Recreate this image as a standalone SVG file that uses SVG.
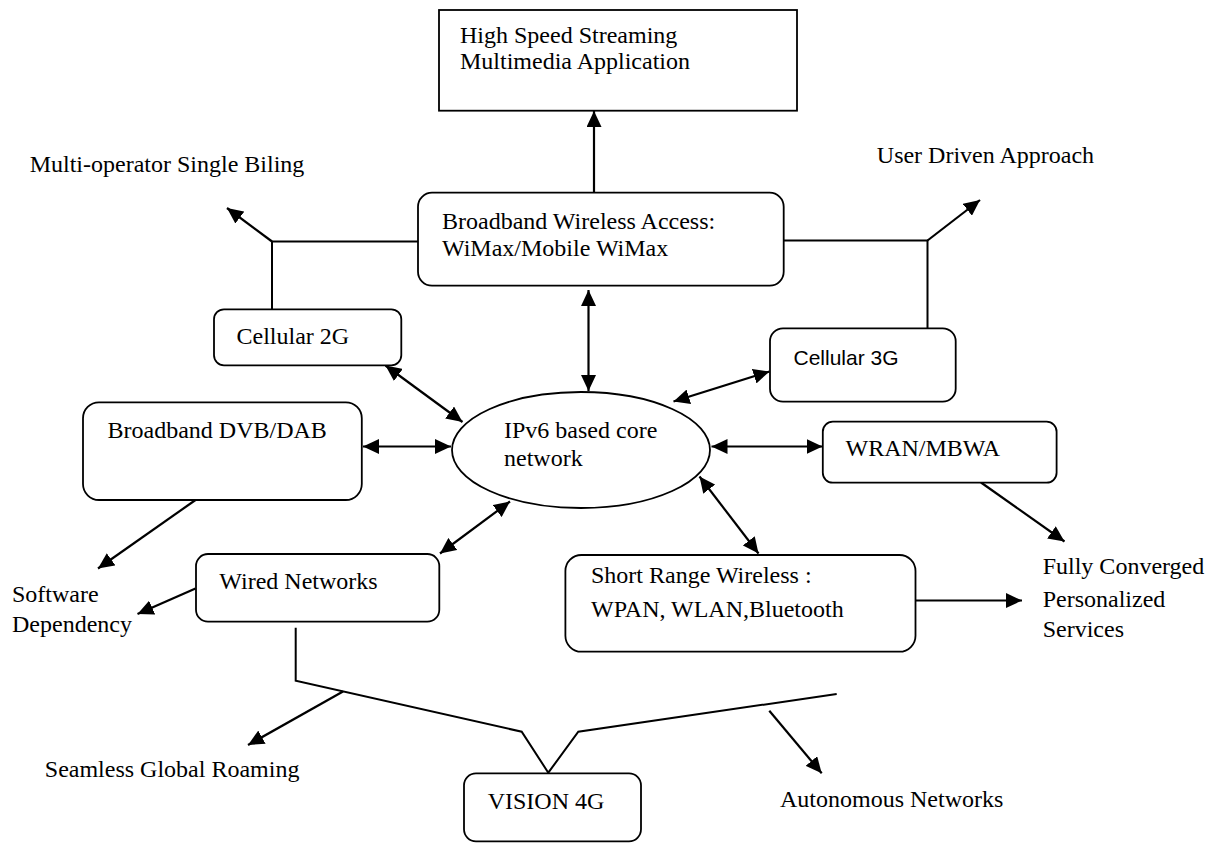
<svg xmlns="http://www.w3.org/2000/svg" width="1213" height="843" viewBox="0 0 1213 843">
<style>
  .box { fill: #fff; stroke: #000; stroke-width: 1.8; }
  .t { font-family: "Liberation Serif", "Times New Roman", serif; font-size: 24px; fill: #000; }
  .s { font-family: "Liberation Sans", Arial, sans-serif; font-size: 21px; fill: #000; }
  .ln { fill: none; stroke: #000; stroke-width: 2; }
  .ar { fill: none; stroke: #000; stroke-width: 2.2; marker-end: url(#ah); }
  .ar2 { fill: none; stroke: #000; stroke-width: 2.2; marker-end: url(#ah); marker-start: url(#ah); }
</style>
<defs>
  <marker id="ah" markerUnits="userSpaceOnUse" markerWidth="17" markerHeight="15" refX="16" refY="7.5" orient="auto-start-reverse">
    <path d="M0,0 L16,7.5 L0,15 z" fill="#000"/>
  </marker>
</defs>
<rect width="1213" height="843" fill="#fff"/>

<g id="connectors">
  <!-- Broadband wireless to High speed -->
  <line class="ar" x1="594" y1="193" x2="594" y2="111"/>
  <!-- left branch -->
  <polyline class="ln" points="418,241.5 272,241.5 272,309.5"/>
  <line class="ar" x1="272" y1="241.5" x2="227" y2="208"/>
  <!-- right branch -->
  <polyline class="ln" points="783.5,240.5 927.5,240.5 927.5,328.5"/>
  <line class="ar" x1="927.5" y1="240.5" x2="980" y2="200"/>
  <!-- double arrows to core -->
  <line class="ar2" x1="588.5" y1="290" x2="588.5" y2="391"/>
  <line class="ar2" x1="385.5" y1="365.5" x2="462.5" y2="422"/>
  <line class="ar2" x1="363" y1="446.5" x2="451" y2="446.5"/>
  <line class="ar2" x1="440" y1="553.5" x2="510" y2="501.5"/>
  <line class="ar2" x1="673.5" y1="401.5" x2="769.5" y2="371.5"/>
  <line class="ar2" x1="711.5" y1="446.5" x2="822.5" y2="446.5"/>
  <line class="ar2" x1="699.5" y1="476.5" x2="758.5" y2="553.5"/>
  <!-- outputs -->
  <line class="ar" x1="195.5" y1="500" x2="98" y2="568.5"/>
  <line class="ar" x1="195.5" y1="588.5" x2="137.5" y2="614"/>
  <line class="ar" x1="981" y1="482.5" x2="1064.5" y2="541.5"/>
  <line class="ar" x1="915.5" y1="600.5" x2="1022" y2="600.5"/>
  <!-- vision 4G -->
  <polyline class="ln" points="295.7,627.7 295.7,680.7 521.7,731.7 548.3,772.7 578.3,731.7 836.7,694"/>
  <line class="ar" x1="343" y1="691.5" x2="248" y2="745"/>
  <line class="ar" x1="769.3" y1="710.7" x2="821.7" y2="773.3"/>
</g>

<g id="high-speed">
  <rect class="box" x="439" y="10" width="358" height="100.7"/>
  <text class="t" x="460" y="42.7">High Speed Streaming</text>
  <text class="t" x="460" y="69.3">Multimedia Application</text>
</g>

<g id="bwa">
  <rect class="box" x="418" y="192.7" width="365.7" height="93" rx="14" ry="14"/>
  <text class="t" x="442" y="229.3">Broadband Wireless Access:</text>
  <text class="t" x="442" y="256">WiMax/Mobile WiMax</text>
</g>

<g id="label-multi-operator">
  <text class="t" x="29.7" y="171.7">Multi-operator Single Biling</text>
</g>
<g id="label-user-driven">
  <text class="t" x="876.8" y="163.3">User Driven Approach</text>
</g>

<g id="cellular-2g">
  <rect class="box" x="214" y="309.3" width="187.3" height="56" rx="10" ry="10"/>
  <text class="t" x="236.5" y="344">Cellular 2G</text>
</g>

<g id="cellular-3g">
  <rect class="box" x="770" y="328.3" width="185.7" height="73.4" rx="13" ry="13"/>
  <text class="s" x="793.5" y="365">Cellular 3G</text>
</g>

<g id="dvb">
  <rect class="box" x="83" y="402.3" width="278.8" height="97.7" rx="16" ry="16"/>
  <text class="t" x="107.5" y="438.3">Broadband DVB/DAB</text>
</g>

<g id="core">
  <ellipse class="box" cx="581" cy="450" rx="129" ry="58"/>
  <text class="t" x="504" y="438.3">IPv6 based core</text>
  <text class="t" x="504" y="465.7">network</text>
</g>

<g id="wran">
  <rect class="box" x="822.8" y="421.7" width="233.8" height="61" rx="10" ry="10"/>
  <text class="t" x="845.5" y="455.7">WRAN/MBWA</text>
</g>

<g id="wired">
  <rect class="box" x="196" y="554" width="243.3" height="67.7" rx="12" ry="12"/>
  <text class="t" x="219.3" y="589.3">Wired Networks</text>
</g>

<g id="short-range">
  <rect class="box" x="565.4" y="555" width="350.1" height="96.7" rx="16" ry="16"/>
  <text class="t" x="591" y="583.3">Short Range Wireless :</text>
  <text class="t" x="591" y="616.7">WPAN, WLAN,Bluetooth</text>
</g>

<g id="label-software">
  <text class="t" x="12" y="601.7">Software</text>
  <text class="t" x="12" y="631.7">Dependency</text>
</g>

<g id="label-fully">
  <text class="t" x="1042.7" y="574.3">Fully Converged</text>
  <text class="t" x="1042.7" y="606.7">Personalized</text>
  <text class="t" x="1042.7" y="636.7">Services</text>
</g>

<g id="label-seamless">
  <text class="t" x="44.8" y="776.7">Seamless Global Roaming</text>
</g>

<g id="vision-4g">
  <rect class="box" x="464" y="773.3" width="177" height="68" rx="12" ry="12"/>
  <text class="t" x="487.7" y="809">VISION 4G</text>
</g>

<g id="label-autonomous">
  <text class="t" x="780" y="807">Autonomous Networks</text>
</g>
</svg>
